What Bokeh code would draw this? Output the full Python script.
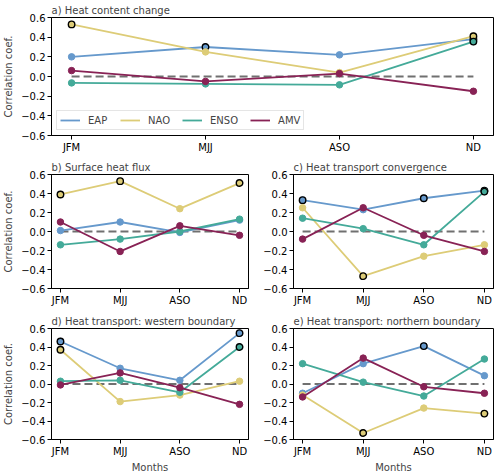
from bokeh.plotting import figure
from bokeh.layouts import column, row
from bokeh.models import Legend, LegendItem, FixedTicker, Range1d, Title
from bokeh.embed import file_html
from bokeh.resources import INLINE

months = ["JFM", "MJJ", "ASO", "ND"]
modes = ["EAP", "NAO", "ENSO", "AMV"]
mode_colors = ["#6699CC", "#DDCC77", "#44AA99", "#882255"]
y_ticks = [-0.6, -0.4, -0.2, 0.0, 0.2, 0.4, 0.6]
y_tick_labels = ["\u22120.6", "\u22120.4", "\u22120.2", "0.0", "0.2", "0.4", "0.6"]

# a) heat content change
heat_content = {
    "EAP": [0.20, 0.30, 0.22, 0.38],
    "NAO": [0.53, 0.25, 0.04, 0.41],
    "ENSO": [-0.065, -0.075, -0.085, 0.355],
    "AMV": [0.06, -0.05, 0.03, -0.15],
}
heat_content_sig = {
    "EAP": [0, 1, 0, 1],
    "NAO": [1, 0, 0, 1],
    "ENSO": [0, 0, 0, 1],
    "AMV": [0, 0, 0, 0],
}

# b) surface heat flux
surface_flux = {
    "EAP": [0.01, 0.10, -0.01, 0.12],
    "NAO": [0.39, 0.53, 0.24, 0.51],
    "ENSO": [-0.14, -0.08, 0.00, 0.13],
    "AMV": [0.10, -0.21, 0.06, -0.04],
}
surface_flux_sig = {
    "EAP": [0, 0, 0, 0],
    "NAO": [1, 1, 0, 1],
    "ENSO": [0, 0, 0, 0],
    "AMV": [0, 0, 0, 0],
}

# c) heat transport convergence
transport_conv = {
    "EAP": [0.33, 0.23, 0.35, 0.43],
    "NAO": [0.25, -0.47, -0.26, -0.14],
    "ENSO": [0.14, 0.03, -0.14, 0.42],
    "AMV": [-0.08, 0.25, -0.04, -0.21],
}
transport_conv_sig = {
    "EAP": [1, 0, 1, 1],
    "NAO": [0, 1, 0, 0],
    "ENSO": [0, 0, 0, 1],
    "AMV": [0, 0, 0, 0],
}

# d) heat transport across the western boundary
transport_west = {
    "EAP": [0.46, 0.17, 0.04, 0.55],
    "NAO": [0.37, -0.19, -0.12, 0.03],
    "ENSO": [0.03, 0.04, -0.09, 0.40],
    "AMV": [-0.01, 0.12, -0.04, -0.22],
}
transport_west_sig = {
    "EAP": [1, 0, 0, 1],
    "NAO": [1, 0, 0, 0],
    "ENSO": [0, 0, 0, 1],
    "AMV": [0, 0, 0, 0],
}

# e) heat transport across the northern boundary
transport_north = {
    "EAP": [-0.10, 0.22, 0.41, 0.09],
    "NAO": [-0.12, -0.53, -0.26, -0.32],
    "ENSO": [0.22, 0.02, -0.13, 0.27],
    "AMV": [-0.14, 0.28, -0.03, -0.10],
}
transport_north_sig = {
    "EAP": [0, 0, 1, 0],
    "NAO": [0, 1, 0, 1],
    "ENSO": [0, 0, 0, 0],
    "AMV": [0, 0, 0, 0],
}

FONT = "DejaVu Sans"
FS = "10px"


def make_panel(title, values, sig, width, height, borders, ylabel=None,
               xlabel=None, legend=False):
    left, right, top, bottom = borders
    p = figure(width=width, height=height, output_backend="svg",
               toolbar_location=None, x_range=Range1d(-0.15, 3.15),
               y_range=Range1d(-0.6, 0.6),
               min_border_left=left, min_border_right=right,
               min_border_top=top, min_border_bottom=bottom)
    p.title = Title(text=title, align="left", text_font=FONT,
                    text_font_size=FS, text_font_style="normal",
                    standoff=3, offset=0)
    p.grid.visible = False
    p.outline_line_color = "black"
    p.outline_line_width = 1
    p.background_fill_color = "white"
    p.border_fill_color = "white"

    xs = list(range(len(months)))
    # zero reference
    p.line(xs, [0] * len(xs), line_color="#707070", line_width=1.8,
           line_dash="8 4")

    items = []
    for mode, color in zip(modes, mode_colors):
        ys = values[mode]
        ln = p.line(xs, ys, line_color=color, line_width=1.8)
        p.scatter(xs, ys, size=6.5, fill_color=color, line_color=color)
        sx = [x for x, s in zip(xs, sig[mode]) if s]
        sy = [y for y, s in zip(ys, sig[mode]) if s]
        if sx:
            p.scatter(sx, sy, size=6.5, fill_color=color, line_color="black",
                      line_width=1.4)
        items.append(LegendItem(label=mode, renderers=[ln]))

    for ax in (p.xaxis[0], p.yaxis[0]):
        ax.axis_line_color = "black"
        ax.major_tick_line_color = "black"
        ax.major_tick_out = 4
        ax.major_tick_in = 0
        ax.minor_tick_line_color = None
        ax.major_label_text_font = FONT
        ax.major_label_text_font_size = FS
        ax.major_label_text_color = "black"
        ax.major_label_standoff = 2
        ax.axis_label_text_font = FONT
        ax.axis_label_text_font_size = FS
        ax.axis_label_text_font_style = "normal"
        ax.axis_label_standoff = 4

    p.xaxis.ticker = FixedTicker(ticks=xs)
    p.xaxis.major_label_overrides = {i: m for i, m in enumerate(months)}
    p.yaxis.ticker = FixedTicker(ticks=y_ticks)
    p.yaxis.major_label_overrides = {t: l for t, l in zip(y_ticks, y_tick_labels)}
    if ylabel:
        p.yaxis.axis_label = ylabel
    if xlabel:
        p.xaxis.axis_label = xlabel
        p.xaxis.axis_label_standoff = 2

    if legend:
        lg = Legend(items=items, orientation="horizontal",
                    location="bottom_left", margin=5, padding=3, spacing=12,
                    glyph_width=20, glyph_height=12, label_height=12,
                    label_standoff=8, label_text_font=FONT,
                    label_text_font_size=FS,
                    border_line_color="#cccccc", border_line_width=1,
                    background_fill_alpha=0.85)
        p.add_layout(lg, "center")
    return p


pa = make_panel("a) Heat content change", heat_content, heat_content_sig,
                500, 158, (50, 7, 17, 23), ylabel="Correlation coef.",
                legend=True)
pb = make_panel("b) Surface heat flux", surface_flux, surface_flux_sig,
                250, 154, (50, 2, 13, 24), ylabel="Correlation coef.")
pc = make_panel("c) Heat transport convergence", transport_conv,
                transport_conv_sig, 250, 154, (43, 7, 13, 24))
pd_ = make_panel("d) Heat transport: western boundary", transport_west,
                 transport_west_sig, 250, 163, (50, 2, 13, 33),
                 ylabel="Correlation coef.", xlabel="Months")
pe = make_panel("e) Heat transport: northern boundary", transport_north,
                transport_north_sig, 250, 163, (43, 7, 13, 33),
                xlabel="Months")

layout = column(pa, row(pb, pc), row(pd_, pe))

open("out.html", "w").write(file_html(layout, INLINE))
